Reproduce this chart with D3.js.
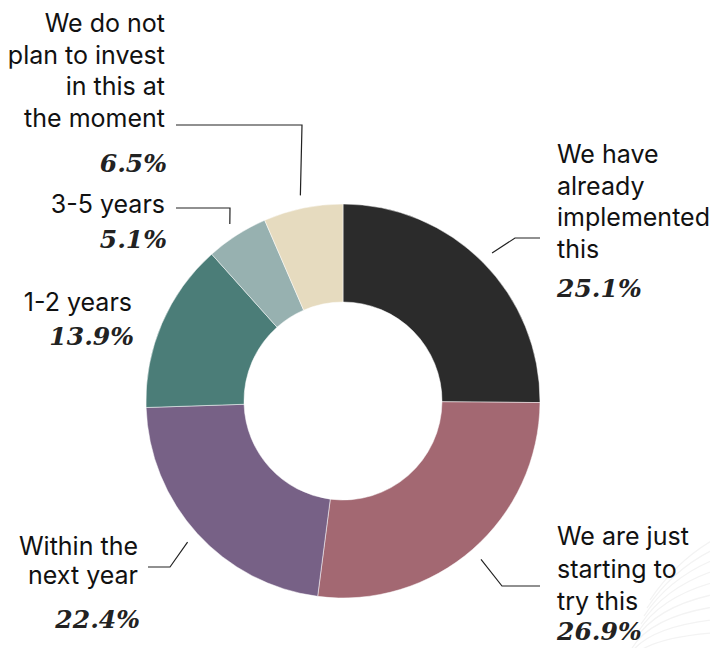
<!DOCTYPE html>
<html>
<head>
<meta charset="utf-8">
<script src="https://cdn.jsdelivr.net/npm/d3@7"></script>
<style>
  html, body { margin: 0; padding: 0; background: #ffffff; }
  svg { display: block; }
</style>
</head>
<body>
<div id="chart"></div>
<script>
// ---- data ----
const categories = [
  "We have already implemented this",
  "We are just starting to try this",
  "Within the next year",
  "1-2 years",
  "3-5 years",
  "We do not plan to invest in this at the moment"
];
const values = [25.1, 26.9, 22.4, 13.9, 5.1, 6.5];
const labelLines = [
  ["We have", "already", "implemented", "this"],
  ["We are just", "starting to", "try this"],
  ["Within the", "next year"],
  ["1-2 years"],
  ["3-5 years"],
  ["We do not", "plan to invest", "in this at", "the moment"]
];
const colors = ["#2b2b2b", "#a36872", "#776186", "#4b7d78", "#97b1b0", "#e6dbbf"];

// ---- layout ----
const W = 710, H = 648;
const cx = 343, cy = 401, R = 197, r0 = 99;
const sans = "Inter, Roboto, 'Noto Sans', sans-serif";
const serif = "'DejaVu Serif', 'Liberation Serif', serif";
const layout = [
  {anchor: "start", x: 557, y: 163, lh: 31.7, py: 297, leader: [[515, 238], [540, 238]]},
  {anchor: "start", x: 557, y: 545, lh: 32.5, py: 640, leader: [[502, 586], [540, 586]]},
  {anchor: "end",   x: 138, y: 555, lh: 28.5, py: 628, leader: [[170, 567], [148, 567]]},
  {anchor: "end",   x: 132, y: 311, lh: 32,   py: 345, leader: null},
  {anchor: "end",   x: 165, y: 213, lh: 32,   py: 248, leader: [[230, 208], [176, 208]]},
  {anchor: "end",   x: 165, y: 32,  lh: 31.7, py: 172, leader: [[302, 125], [176, 125]]}
];

const svg = d3.select("#chart").append("svg")
  .attr("width", W).attr("height", H);

// faint decorative pattern bottom-right
const deco = svg.append("g").attr("stroke", "#f3f3f3").attr("fill", "none").attr("stroke-width", 1.3);
for (let i = 0; i < 9; i++) {
  deco.append("path").attr("d", `M${760 - i * 4},${520 + i * 14} Q${690 - i * 6},${540 + i * 12} ${650 - i * 3},${600 + i * 8}`);
}

const pie = d3.pie().sort(null).value(d => d)(values);
const arc = d3.arc().innerRadius(r0).outerRadius(R);

const g = svg.append("g").attr("transform", `translate(${cx},${cy})`);
g.selectAll("path.slice").data(pie).join("path")
  .attr("class", "slice")
  .attr("d", arc)
  .attr("fill", (d, i) => colors[i])
  .attr("stroke", "#ffffff")
  .attr("stroke-width", 0.5);

// leaders
const leaderArc = d3.arc().innerRadius(210).outerRadius(210);
pie.forEach((d, i) => {
  const L = layout[i];
  if (!L.leader) return;
  const c = leaderArc.centroid(d);
  const pts = [[cx + c[0], cy + c[1]], ...L.leader];
  svg.append("path")
    .attr("d", d3.line()(pts))
    .attr("fill", "none")
    .attr("stroke", "#222")
    .attr("stroke-width", 1.2);
});

// labels
categories.forEach((cat, i) => {
  const L = layout[i];
  const t = svg.append("text")
    .attr("text-anchor", L.anchor)
    .attr("font-family", sans)
    .attr("font-size", 25)
    .attr("fill", "#111");
  labelLines[i].forEach((line, j) => {
    t.append("tspan").attr("x", L.x).attr("y", L.y + j * L.lh).text(line);
  });
  svg.append("text")
    .attr("text-anchor", L.anchor)
    .attr("x", L.anchor === "end" ? L.x + 2 : L.x)
    .attr("y", L.py)
    .attr("font-family", serif)
    .attr("font-style", "italic")
    .attr("font-weight", "bold")
    .attr("font-size", 25)
    .attr("fill", "#222")
    .text(d3.format(".1f")(values[i]) + "%");
});
</script>
</body>
</html>
